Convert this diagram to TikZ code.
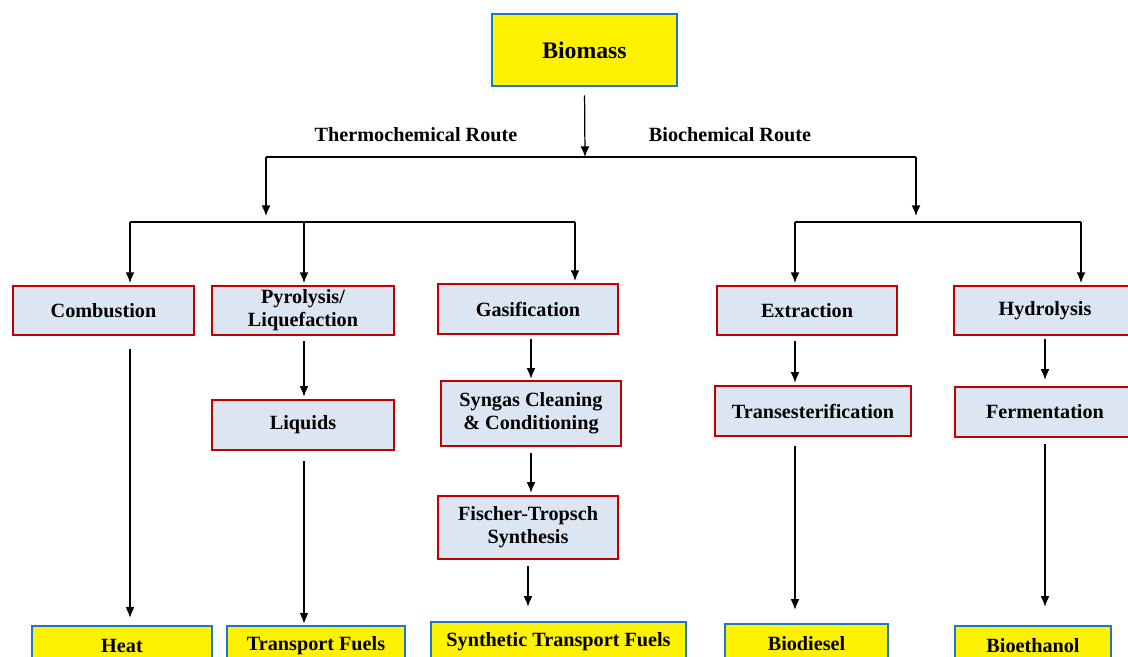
\documentclass[tikz,border=0pt]{standalone}
\usepackage{fontspec}
\setmainfont{Liberation Serif}
\usetikzlibrary{arrows.meta}
\definecolor{boxred}{HTML}{C00000}
\definecolor{boxblue}{HTML}{1E78C8}
\definecolor{procfill}{HTML}{DCE6F2}
\tikzset{
  proc/.style={draw=boxred, fill=procfill, line width=1.5pt, inner sep=0pt, align=center, font=\bfseries\fontsize{11.5}{13}\selectfont},
  prod/.style={draw=boxblue, fill=yellow, line width=1.5pt, inner sep=0pt, align=center, font=\bfseries\fontsize{11.5}{13}\selectfont},
  route/.style={font=\bfseries\fontsize{11.5}{13}\selectfont},
  arr/.style={line width=0.7pt, -{Latex[length=6pt,width=5pt]}},
  bar/.style={line width=0.7pt}
}
\begin{document}
\begin{tikzpicture}[x=0.02cm, y=-0.02cm]
    \clip (0,0) rectangle (1128,656);

    \node[prod, minimum width=3.7cm, minimum height=1.44cm, font=\bfseries\fontsize{13.5}{15}\selectfont] (biomass) at (584.5,50) {Biomass};
    \node[route] (thermo) at (416,135) {Thermochemical Route};
    \node[route] (bio) at (730,135) {Biochemical Route};

    \node[proc, minimum width=3.62cm, minimum height=0.98cm] (comb) at (103.5,310.5) {Combustion};
    \node[proc, minimum width=3.64cm, minimum height=0.98cm] (pyro) at (303,310.5) {Pyrolysis/\\Liquefaction};
    \node[proc, minimum width=3.6cm, minimum height=1cm] (gasi) at (528,309) {Gasification};
    \node[proc, minimum width=3.6cm, minimum height=0.98cm] (extr) at (807,310.5) {Extraction};
    \node[proc, minimum width=3.64cm, minimum height=0.98cm] (hydro) at (1045,310.5) {Hydrolysis};

    \node[proc, minimum width=3.64cm, minimum height=1cm] (liquids) at (303,425) {Liquids};
    \node[proc, minimum width=3.6cm, minimum height=1.3cm] (syngas) at (531,413.5) {Syngas Cleaning\\\& Conditioning};
    \node[proc, minimum width=3.6cm, minimum height=1.26cm] (ft) at (528,527.5) {Fischer-Tropsch\\Synthesis};
    \node[proc, minimum width=3.92cm, minimum height=1cm] (trans) at (813,411) {Transesterification};
    \node[proc, minimum width=3.6cm, minimum height=1cm] (ferm) at (1045,412) {Fermentation};

    \node[prod, minimum width=3.6cm, minimum height=0.8cm] (heat) at (122,646) {Heat};
    \node[prod, minimum width=3.56cm, minimum height=0.8cm] (tfuel) at (316,646) {Transport Fuels};
    \node[prod, minimum width=5.1cm, minimum height=0.8cm] (synth) at (558.5,642) {Synthetic Transport Fuels};
    \node[prod, minimum width=3.26cm, minimum height=0.8cm] (biod) at (806.5,644) {Biodiesel};
    \node[prod, minimum width=3.12cm, minimum height=0.8cm] (bioeth) at (1033,646) {Bioethanol};

    \coordinate (top) at (585,157);
    \coordinate (topl) at (266,157);
    \coordinate (topr) at (916,157);
    \coordinate (lb1) at (130,222);
    \coordinate (lb2) at (304,222);
    \coordinate (lb3) at (575,222);
    \coordinate (rb1) at (795,222);
    \coordinate (rb2) at (1081,222);

    \draw[arr, shorten <=0.16cm] (biomass.south) -- (top);
    \draw[bar] (topl) -- (topr);
    \draw[arr] (topl) -- ++(0,59);
    \draw[arr] (topr) -- ++(0,59);

    \draw[bar] (lb1) -- (lb3);
    \draw[arr, shorten >=1pt] (lb1) -- (lb1 |- comb.north);
    \draw[arr, shorten >=1pt] (lb2) -- (lb2 |- pyro.north);
    \draw[arr, shorten >=1pt] (lb3) -- (lb3 |- gasi.north);
    \draw[bar] (rb1) -- (rb2);
    \draw[arr, shorten >=1pt] (rb1) -- (rb1 |- extr.north);
    \draw[arr, shorten >=1pt] (rb2) -- (rb2 |- hydro.north);

    \draw[arr, shorten <=0.26cm, shorten >=0.14cm] (comb.south -| lb1) -- (heat.north -| lb1);
    \draw[arr, shorten <=0.1cm, shorten >=0.04cm] (pyro.south -| lb2) -- (liquids.north -| lb2);
    \draw[arr, shorten <=0.2cm, shorten >=0.02cm] (liquids.south -| lb2) -- (tfuel.north -| lb2);
    \draw[arr, shorten <=0.08cm, shorten >=0.02cm] (gasi.south -| syngas.north) -- (syngas.north);
    \draw[arr, shorten <=0.12cm, shorten >=0.04cm] (syngas.south -| syngas.north) -- (syngas.north |- ft.north);
    \draw[arr, shorten <=0.12cm, shorten >=0.28cm] (ft.south) -- (ft.south |- synth.north);
    \draw[arr, shorten <=0.1cm, shorten >=0.04cm] (extr.south -| rb1) -- (trans.north -| rb1);
    \draw[arr, shorten <=0.18cm, shorten >=0.26cm] (trans.south -| rb1) -- (biod.north -| rb1);
    \draw[arr, shorten <=0.06cm, shorten >=0.12cm] (hydro.south) -- (ferm.north);
    \draw[arr, shorten <=0.12cm, shorten >=0.36cm] (ferm.south) -- (ferm.south |- bioeth.north);
\end{tikzpicture}
\end{document}
